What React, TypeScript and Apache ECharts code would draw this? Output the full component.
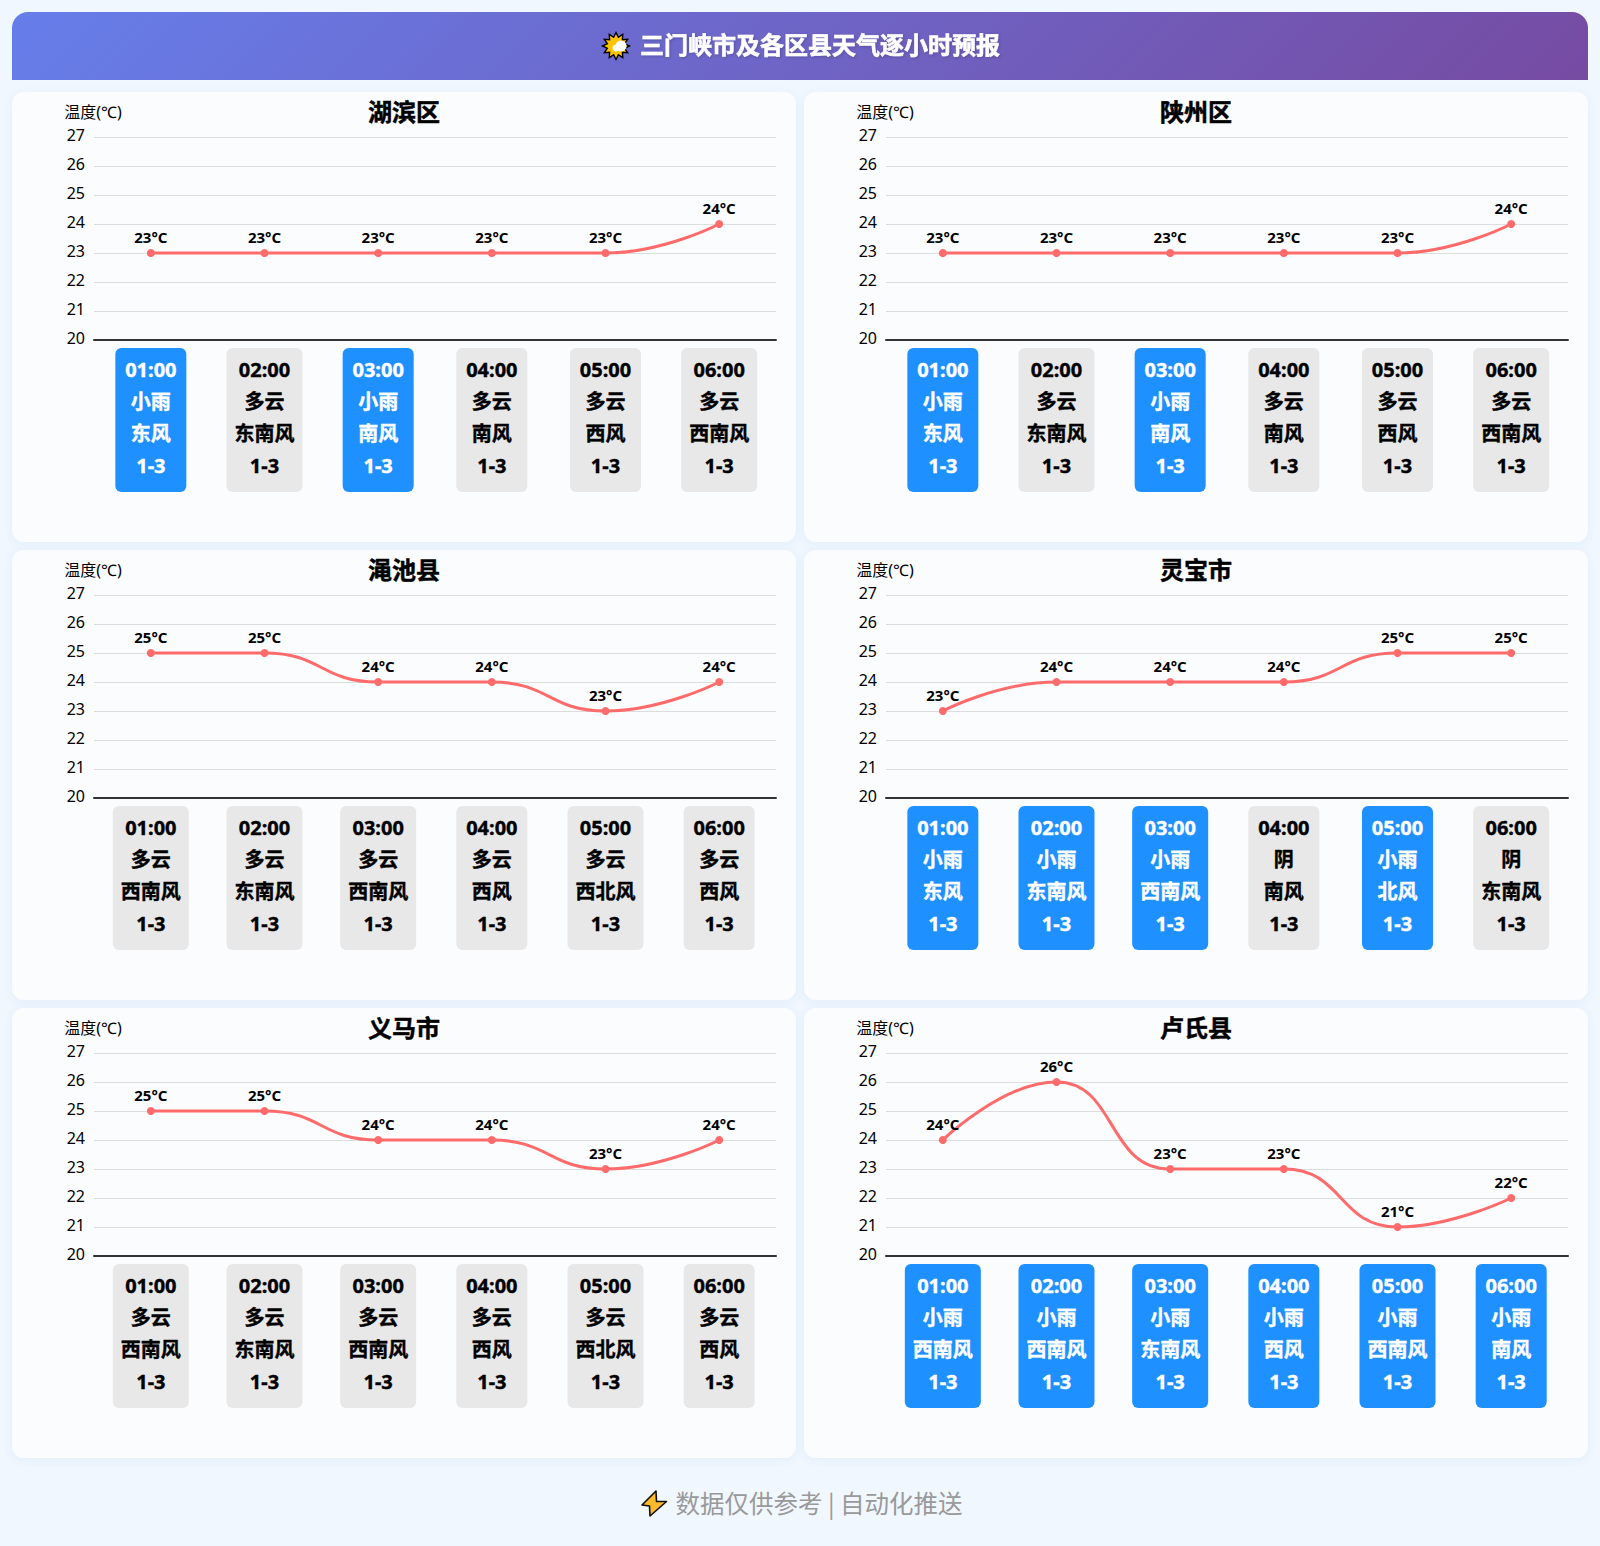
import React, { useEffect, useRef } from "react";
import * as echarts from "echarts";

const hours = ["01:00", "02:00", "03:00", "04:00", "05:00", "06:00"];
const districts = ["湖滨区", "陕州区", "渑池县", "灵宝市", "义马市", "卢氏县"];
const temperatures = [
  [23, 23, 23, 23, 23, 24],
  [23, 23, 23, 23, 23, 24],
  [25, 25, 24, 24, 23, 24],
  [23, 24, 24, 24, 25, 25],
  [25, 25, 24, 24, 23, 24],
  [24, 26, 23, 23, 21, 22],
];
const weather = [
  ["小雨", "多云", "小雨", "多云", "多云", "多云"],
  ["小雨", "多云", "小雨", "多云", "多云", "多云"],
  ["多云", "多云", "多云", "多云", "多云", "多云"],
  ["小雨", "小雨", "小雨", "阴", "小雨", "阴"],
  ["多云", "多云", "多云", "多云", "多云", "多云"],
  ["小雨", "小雨", "小雨", "小雨", "小雨", "小雨"],
];
const winds = [
  ["东风", "东南风", "南风", "南风", "西风", "西南风"],
  ["东风", "东南风", "南风", "南风", "西风", "西南风"],
  ["西南风", "东南风", "西南风", "西风", "西北风", "西风"],
  ["东风", "东南风", "西南风", "南风", "北风", "东南风"],
  ["西南风", "东南风", "西南风", "西风", "西北风", "西风"],
  ["西南风", "西南风", "东南风", "西风", "西南风", "南风"],
];
const windLevel = "1-3";
const headerTitle = "三门峡市及各区县天气逐小时预报";
const footerText = "数据仅供参考 | 自动化推送";
const yAxisName = "温度(℃)";

const FONT = '"Noto Sans", "Noto Sans CJK SC", sans-serif';
const CJK_FONT = '"Noto Sans CJK SC", sans-serif';

function sunPoints(cx: number, cy: number, rOut: number, rIn: number, n: number) {
  const pts: number[][] = [];
  for (let i = 0; i < n * 2; i++) {
    const r = i % 2 === 0 ? rOut : rIn;
    const a = (Math.PI * i) / n - Math.PI / 2;
    pts.push([cx + r * Math.cos(a), cy + r * Math.sin(a)]);
  }
  return pts;
}

function buildOption() {
  const grids: any[] = [];
  const xAxes: any[] = [];
  const yAxes: any[] = [];
  const series: any[] = [];
  const titles: any[] = [];
  const graphics: any[] = [];

  graphics.push({
    type: "rect",
    z: -10,
    silent: true,
    shape: { x: 12, y: 12, width: 1576, height: 68, r: [16, 16, 0, 0] },
    style: {
      fill: {
        type: "linear",
        x: 389,
        y: -365,
        x2: 1211,
        y2: 457,
        global: true,
        colorStops: [
          { offset: 0, color: "#667eea" },
          { offset: 1, color: "#764ba2" },
        ],
      },
    },
  });
  // 标题图标
  graphics.push({
    type: "polygon",
    z: 5,
    silent: true,
    shape: { points: sunPoints(616, 46, 13.5, 9, 12) },
    style: { fill: "#ffc400", stroke: "#000", lineWidth: 1.4 },
  });
  graphics.push({
    type: "circle",
    z: 6,
    silent: true,
    shape: { cx: 621, cy: 46, r: 5.5 },
    style: { fill: "#fff" },
  });
  graphics.push({
    type: "circle",
    z: 6,
    silent: true,
    shape: { cx: 616, cy: 48, r: 3.5 },
    style: { fill: "#fff" },
  });
  graphics.push({
    type: "text",
    z: 6,
    silent: true,
    x: 820,
    y: 44.5,
    style: {
      text: headerTitle,
      fill: "#fff",
      font: `bold 24px ${FONT}`,
      textAlign: "center",
      textVerticalAlign: "middle",
      stroke: "#fff",
      lineWidth: 0.6,
      textShadowColor: "rgba(0,0,0,0.2)",
      textShadowBlur: 3,
      textShadowOffsetX: 1,
      textShadowOffsetY: 1,
    },
  });
  // 页脚
  graphics.push({
    type: "polygon",
    z: 6,
    silent: true,
    shape: {
      points: [
        [656, 1491],
        [642, 1505],
        [649.5, 1506],
        [650, 1516],
        [666.5, 1501.5],
        [656.5, 1501.5],
      ],
    },
    style: { fill: "#fdb92c", stroke: "#111", lineWidth: 1.6, lineJoin: "round" },
  });
  graphics.push({
    type: "text",
    z: 6,
    silent: true,
    x: 819,
    y: 1502,
    style: {
      text: footerText,
      fill: "#999",
      font: `24.5px ${CJK_FONT}`,
      textAlign: "center",
      textVerticalAlign: "middle",
    },
  });

  districts.forEach((name, i) => {
    const col = i % 2;
    const row = Math.floor(i / 2);
    const cardX = 12 + col * 792;
    const cardY = 92 + row * 458;
    graphics.push({
      type: "rect",
      z: -10,
      silent: true,
      shape: { x: cardX, y: cardY, width: 784, height: 450, r: 12 },
      style: {
        fill: "#fbfcfe",
        shadowColor: "rgba(60,110,180,0.07)",
        shadowBlur: 8,
        shadowOffsetY: 2,
      },
    });
    titles.push({
      text: name,
      left: cardX + 387,
      top: cardY + 14,
      textAlign: "center",
      textVerticalAlign: "middle",
      textStyle: {
        fontSize: 24,
        fontWeight: "bold",
        color: "#000",
        fontFamily: FONT,
        textBorderColor: "#000",
        textBorderWidth: 0.5,
      },
    });
    grids.push({
      left: cardX + 82,
      top: cardY + 45,
      width: 682,
      height: 203,
    });
    xAxes.push({
      type: "category",
      gridIndex: i,
      boundaryGap: true,
      data: hours.map((h, k) => {
        const rain = weather[i][k] === "小雨";
        return {
          value: `${h}\n${weather[i][k]}\n${winds[i][k]}\n${windLevel}`,
          textStyle: {
            color: rain ? "#fff" : "#000",
            backgroundColor: rain ? "#1e90ff" : "#e8e8e8",
            textBorderColor: rain ? "#fff" : "#000",
            textBorderWidth: 0.4,
            width: winds[i][k].length === 3 ? 60 : 55,
          },
        };
      }),
      axisTick: { show: false },
      axisLine: { show: true, lineStyle: { color: "#333", width: 2 } },
      axisLabel: {
        interval: 0,
        margin: 8,
        fontSize: 20,
        fontWeight: "bold",
        fontFamily: FONT,
        lineHeight: 32,
        align: "center",
        padding: [5, 8, 11, 8],
        borderRadius: 6,
      },
    });
    yAxes.push({
      type: "value",
      gridIndex: i,
      min: 20,
      max: 27,
      interval: 1,
      name: yAxisName,
      nameGap: 17,
      nameTextStyle: { fontSize: 16, color: "#000", fontFamily: FONT, padding: [0, 2, 0, 0] },
      axisLine: { show: false },
      axisTick: { show: false },
      axisLabel: {
        fontSize: 16,
        color: "#000",
        margin: 9,
        fontFamily: FONT,
        verticalAlign: "bottom",
        lineHeight: 4,
      },
      splitLine: { show: true, lineStyle: { color: "#ddd", width: 1 } },
    });
    series.push({
      type: "line",
      xAxisIndex: i,
      yAxisIndex: i,
      data: temperatures[i],
      smooth: true,
      symbol: "circle",
      symbolSize: 8,
      lineStyle: { color: "#ff6b6b", width: 3 },
      itemStyle: { color: "#ff6b6b" },
      label: {
        show: true,
        position: "top",
        formatter: "{c}°C",
        fontSize: 15,
        fontWeight: "bold",
        color: "#000",
        fontFamily: FONT,
      },
    });
  });

  return {
    animation: false,
    backgroundColor: "#f0f7ff",
    title: titles,
    grid: grids,
    xAxis: xAxes,
    yAxis: yAxes,
    series,
    graphic: { elements: graphics },
  };
}

export default function App() {
  const ref = useRef<HTMLDivElement>(null);
  useEffect(() => {
    document.body.style.margin = "0";
    const chart = echarts.init(ref.current!, null, { renderer: "svg" });
    chart.setOption(buildOption() as any);
    return () => chart.dispose();
  }, []);
  return <div ref={ref} style={{ position: "absolute", left: 0, top: 0, width: 1600, height: 1546 }} />;
}
